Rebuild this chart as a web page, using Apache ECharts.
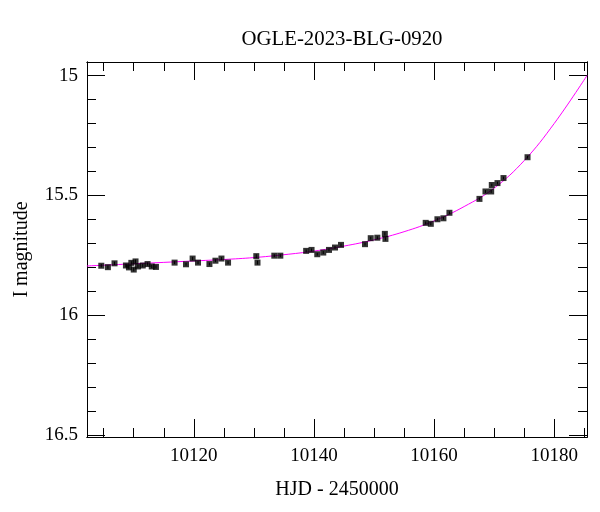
<!DOCTYPE html>
<html>
<head>
<meta charset="utf-8">
<script src="https://cdn.jsdelivr.net/npm/echarts@6/dist/echarts.min.js"></script>
<style>html,body{margin:0;padding:0;background:#fff;}#c{width:600px;height:512px;}</style>
</head>
<body>
<div id="c"></div>
<script>
// Observations (HJD - 2450000, I mag, error)
const obsTime = [10104.6,10105.7,10106.8,10108.7,10109.2,10109.6,10110.0,10110.3,10110.7,10111.5,10112.3,10113.0,10113.7,
  10116.8,10118.7,10119.8,10120.7,10122.6,10123.6,10124.6,10125.7,10130.4,10130.6,10133.4,10134.4,
  10138.7,10139.6,10140.55,10141.55,10142.5,10143.5,10144.5,10148.5,10149.45,10150.55,10151.8,10151.9,
  10158.6,10159.45,10160.55,10161.55,10162.55,10167.55,10168.55,10169.5,10169.6,10170.55,10171.55,10175.55];
const obsMag = [15.794,15.800,15.784,15.793,15.801,15.782,15.810,15.776,15.797,15.793,15.787,15.797,15.799,
  15.781,15.788,15.764,15.781,15.787,15.773,15.764,15.781,15.754,15.781,15.752,15.752,
  15.732,15.728,15.746,15.739,15.728,15.718,15.707,15.704,15.679,15.677,15.661,15.682,
  15.615,15.619,15.600,15.596,15.573,15.515,15.484,15.484,15.457,15.449,15.428,15.341];
const obsErr = [0.007,0.007,0.007,0.007,0.007,0.007,0.008,0.008,0.007,0.007,0.007,0.007,0.007,
  0.006,0.006,0.007,0.006,0.006,0.006,0.006,0.006,0.008,0.008,0.006,0.006,
  0.006,0.006,0.006,0.006,0.006,0.006,0.006,0.006,0.006,0.006,0.007,0.007,
  0.006,0.006,0.006,0.006,0.006,0.006,0.006,0.006,0.006,0.006,0.006,0.006];
// Model curve
const modelTime = [10102.2,10110,10120,10125,10130,10135,10140,10145,10150,10155,10160,10165,10170,10175,10180,10185.45];
const modelMag  = [15.795,15.786,15.774,15.768,15.760,15.748,15.733,15.712,15.686,15.652,15.607,15.547,15.470,15.355,15.200,15.000];
// Ticks
const xMajorTicks = [10120,10140,10160,10180];
const xMinorTicks = [10105,10110,10115,10120,10125,10130,10135,10140,10145,10150,10155,10160,10165,10170,10175,10180,10185];
const yMajorTicks = [15,15.5,16,16.5];
const yMinorTicks = [15.0,15.1,15.2,15.3,15.4,15.5,15.6,15.7,15.8,15.9,16.0,16.1,16.2,16.3,16.4,16.5];

const X_MIN = 10102.22, X_MAX = 10185.45, Y_MIN = 14.9435, Y_MAX = 16.509;
const FONT = 'Liberation Serif';
const tickStyle = {color:'#000', width:1};

function xAx(pos, vals, len, labels) {
  return {
    type:'value', position:pos, min:X_MIN, max:X_MAX, scale:true,
    axisLine:{show:true, onZero:false, lineStyle:{color:'#000', width:1}},
    axisTick:{show:true, inside:true, length:len, customValues:vals, lineStyle:tickStyle},
    axisLabel: labels ? {show:true, customValues:xMajorTicks, color:'#000', fontFamily:FONT, fontSize:19, margin:10, formatter:v=>String(v)} : {show:false},
    splitLine:{show:false},
    name: labels ? 'HJD - 2450000' : '', nameLocation:'middle', nameGap:43,
    nameTextStyle:{color:'#000', fontFamily:FONT, fontSize:20}
  };
}
function yAx(pos, vals, len, labels) {
  return {
    type:'value', position:pos, inverse:true, min:Y_MIN, max:Y_MAX, scale:true,
    axisLine:{show:true, onZero:false, lineStyle:{color:'#000', width:1}},
    axisTick:{show:true, inside:true, length:len, customValues:vals, lineStyle:tickStyle},
    axisLabel: labels ? {show:true, customValues:yMajorTicks, color:'#000', fontFamily:FONT, fontSize:19, margin:9, formatter:v=>String(v)} : {show:false},
    splitLine:{show:false},
    name: labels ? 'I magnitude' : '', nameLocation:'middle', nameGap:55, nameRotate:90,
    nameTextStyle:{color:'#000', fontFamily:FONT, fontSize:20}
  };
}

const obsData = obsTime.map((t,i)=>[t, obsMag[i], obsErr[i]]);
const modelData = modelTime.map((t,i)=>[t, modelMag[i]]);

const chart = echarts.init(document.getElementById('c'), null, {renderer:'canvas'});
chart.setOption({
  animation:false,
  backgroundColor:'#fff',
  title:{text:'OGLE-2023-BLG-0920', left:337, top:24, textAlign:'center',
    textStyle:{color:'#000', fontFamily:FONT, fontSize:20.8, fontWeight:'normal'}},
  grid:{left:87, right:13, top:62, bottom:75, containLabel:false, outerBoundsMode:'none'},
  xAxis:[xAx('bottom', xMajorTicks, 18, true), xAx('bottom', xMinorTicks, 9, false),
         xAx('top', xMajorTicks, 18, false), xAx('top', xMinorTicks, 9, false)],
  yAxis:[yAx('left', yMajorTicks, 18, true), yAx('left', yMinorTicks, 9, false),
         yAx('right', yMajorTicks, 18, false), yAx('right', yMinorTicks, 9, false)],
  series:[
    {type:'line', data:modelData, smooth:0.4, showSymbol:false, clip:true,
     lineStyle:{color:'#ff00ff', width:1}, z:2},
    {type:'custom', data:obsData, z:3, clip:true,
     renderItem:(params, api)=>{
       const t = api.value(0), m = api.value(1), e = api.value(2);
       const p1 = api.coord([t, m - e]), p2 = api.coord([t, m + e]);
       return {type:'line', shape:{x1:p1[0], y1:p1[1], x2:p2[0], y2:p2[1]}, style:{stroke:'#000', lineWidth:1}};
     }},
    {type:'scatter', data:obsData.map(d=>[d[0],d[1]]), symbol:'rect', symbolSize:6,
     itemStyle:{color:'#000', borderWidth:0}, z:4}
  ]
});
</script>
</body>
</html>
